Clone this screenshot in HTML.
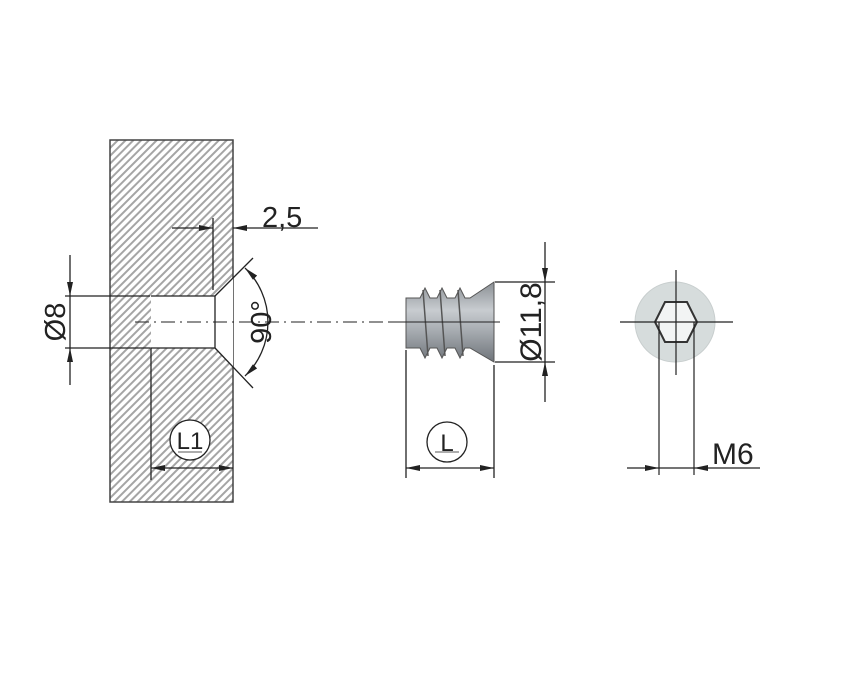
<!DOCTYPE html>
<html><head><style>html,body{margin:0;padding:0;background:#fff}svg{display:block}</style></head>
<body>
<svg width="845" height="678" viewBox="0 0 845 678" xmlns="http://www.w3.org/2000/svg" font-family="Liberation Sans, sans-serif">
<defs>
<pattern id="h" width="5.5" height="5.5" patternUnits="userSpaceOnUse" patternTransform="rotate(45)">
<rect width="5.5" height="5.5" fill="#fff"/><rect width="2" height="5.5" fill="#a5a5a5"/>
</pattern>
<linearGradient id="g" x1="0" y1="0" x2="0" y2="1">
<stop offset="0" stop-color="#8a8f94"/><stop offset="0.35" stop-color="#c8ccd0"/><stop offset="0.6" stop-color="#a8adb2"/><stop offset="1" stop-color="#6f747a"/>
</linearGradient>
<marker id="a" viewBox="0 0 14 6" refX="14" refY="3" markerWidth="14" markerHeight="6" orient="auto-start-reverse" markerUnits="userSpaceOnUse"><path d="M0,0L14,3L0,6z" fill="#222"/></marker>
</defs>
<rect x="110" y="140" width="123" height="362" fill="url(#h)" stroke="#444" stroke-width="1.5"/>
<path d="M151,296H215L233,278V367L215,348H151Z" fill="#fff"/>
<g stroke="#222" stroke-width="1.3" fill="none">
<path d="M151,296H215V348H151V480"/>
<path d="M215,296L253,258M215,348L253,388"/>
<path d="M150,296H65M150,348H65"/>
<line x1="70" y1="255" x2="70" y2="296" marker-end="url(#a)"/>
<line x1="70" y1="385" x2="70" y2="348" marker-end="url(#a)"/>
<line x1="70" y1="296" x2="70" y2="348"/>
<line x1="213" y1="218" x2="213" y2="290"/>
<line x1="172" y1="228" x2="213" y2="228" marker-end="url(#a)"/>
<line x1="318" y1="228" x2="233" y2="228" marker-end="url(#a)"/>
<path d="M245,268A75,75 0 0 1 245,376" marker-start="url(#a)" marker-end="url(#a)"/>
<line x1="151" y1="468" x2="233" y2="468" marker-start="url(#a)" marker-end="url(#a)"/>
<circle cx="190" cy="440" r="20" fill="#fff"/>
<line x1="178" y1="452" x2="202" y2="452" stroke-width="0.8"/>
</g>
<g stroke="#222" stroke-width="1" stroke-dasharray="14,5,2,5" fill="none">
<line x1="135" y1="322" x2="400" y2="322"/>
</g>
<text x="262" y="227" font-size="29" fill="#222">2,5</text>
<text transform="translate(65,322) rotate(-90)" font-size="29" text-anchor="middle" fill="#222">Ø8</text>
<text transform="translate(271,322) rotate(-90)" font-size="29" text-anchor="middle" fill="#222">90°</text>
<text x="190" y="449" font-size="24" text-anchor="middle" fill="#222">L1</text>
<path d="M406,298H420L425,288L430,298H437L442,288L447,298H455L460,288L465,298H470L494,282V362L470,348H465L460,358L455,348H447L442,358L437,348H430L425,358L420,348H406Z" fill="url(#g)" stroke="#555" stroke-width="1"/>
<g stroke="#555" stroke-width="1.5" fill="none"><path d="M423,290L428,356M440,290L445,356M458,290L463,356"/></g>
<g stroke="#222" stroke-width="1.3" fill="none">
<line x1="388" y1="322" x2="500" y2="322" stroke-width="1"/>
<path d="M495,282H555M495,362H555M406,350V478M494,365V478"/>
<line x1="545" y1="242" x2="545" y2="282" marker-end="url(#a)"/>
<line x1="545" y1="402" x2="545" y2="362" marker-end="url(#a)"/>
<line x1="545" y1="282" x2="545" y2="362"/>
<line x1="406" y1="468" x2="494" y2="468" marker-start="url(#a)" marker-end="url(#a)"/>
<circle cx="447" cy="442" r="20" fill="#fff"/>
<line x1="435" y1="452" x2="459" y2="452" stroke-width="0.8"/>
</g>
<text transform="translate(541,322) rotate(-90)" font-size="30" text-anchor="middle" fill="#222">Ø11,8</text>
<text x="447" y="451" font-size="24" text-anchor="middle" fill="#222">L</text>
<circle cx="675" cy="322" r="40" fill="#d6dcdc" stroke="#c8cece"/>
<path d="M655,322L665,302H687L697,322L687,342H665Z" fill="#f2f4f4" stroke="#333" stroke-width="2"/>
<g stroke="#222" stroke-width="1.2" fill="none">
<path d="M620,322H733M676,270V375"/>
<path d="M659,322V475M694,322V475"/>
<line x1="627" y1="468" x2="659" y2="468" marker-end="url(#a)"/>
<line x1="760" y1="468" x2="694" y2="468" marker-end="url(#a)"/>
<line x1="659" y1="468" x2="694" y2="468"/>
</g>
<text x="712" y="464" font-size="30" fill="#222">M6</text>
</svg>
</body></html>
